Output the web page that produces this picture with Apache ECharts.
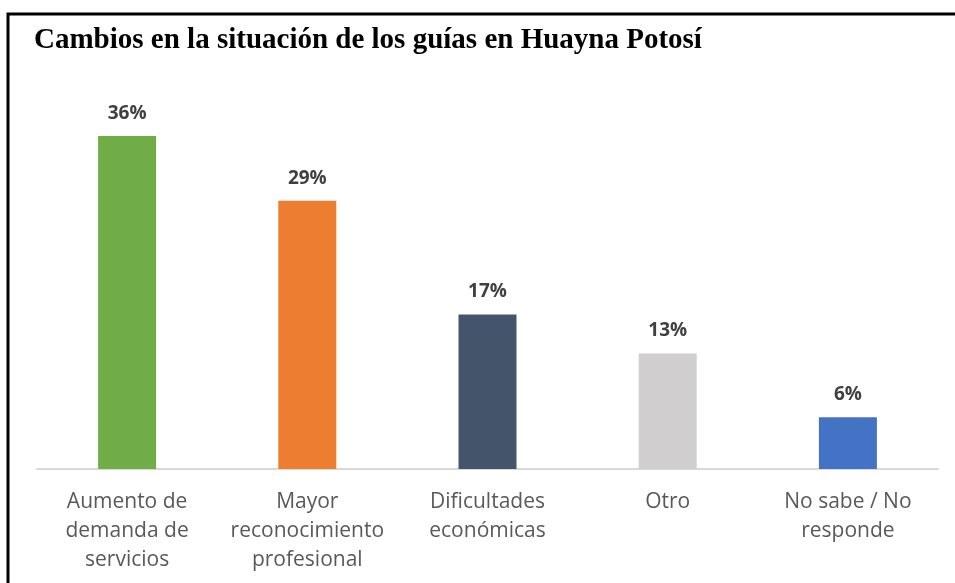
<!doctype html>
<html>
<head>
<meta charset="utf-8" />
<script src="https://cdn.jsdelivr.net/npm/echarts@6/dist/echarts.min.js"></script>
<style>
  html, body { margin: 0; padding: 0; background: #fff; }
  #chart { width: 955px; height: 583px; }
</style>
</head>
<body>
<div id="chart"></div>
<script>
const titleText = "Cambios en la situación de los guías en Huayna Potosí";
const categories = [
  "Aumento de\ndemanda de\nservicios",
  "Mayor\nreconocimiento\nprofesional",
  "Dificultades\neconómicas",
  "Otro",
  "No sabe / No\nresponde"
];
const shares = [36, 29, 16.7, 12.5, 5.6];
const barColors = ["#70ad47", "#ed7d31", "#44546a", "#d0cece", "#4472c4"];

const chart = echarts.init(document.getElementById("chart"), null, { renderer: "canvas" });
chart.setOption({
  animation: false,
  backgroundColor: "#ffffff",
  title: {
    text: titleText,
    left: 29,
    top: 21,
    textStyle: { fontFamily: "Liberation Serif", fontWeight: "bold", fontSize: 29, color: "#000" }
  },
  grid: { left: 37, right: 17, top: 99, bottom: 114 },
  xAxis: {
    type: "category",
    data: categories,
    axisLine: { lineStyle: { color: "#d9d9d9", width: 2 } },
    axisTick: { show: false },
    axisLabel: {
      interval: 0,
      margin: 19,
      color: "#595959",
      fontFamily: "Open Sans",
      fontSize: 21,
      lineHeight: 29
    }
  },
  yAxis: { type: "value", min: 0, max: 40, show: false, splitLine: { show: false } },
  series: [{
    type: "bar",
    barWidth: 58,
    data: shares.map((v, i) => ({ value: v, itemStyle: { color: barColors[i] } })),
    label: {
      show: true,
      position: "top",
      distance: 13,
      formatter: p => Math.round(p.value) + "%",
      color: "#404040",
      fontFamily: "Open Sans",
      fontWeight: "bold",
      fontSize: 19
    }
  }],
  graphic: [{
    type: "polyline",
    shape: { points: [[8, 583], [8, 14], [955, 14]] },
    style: { stroke: "#000", lineWidth: 3, fill: null }
  }]
});
</script>
</body>
</html>
